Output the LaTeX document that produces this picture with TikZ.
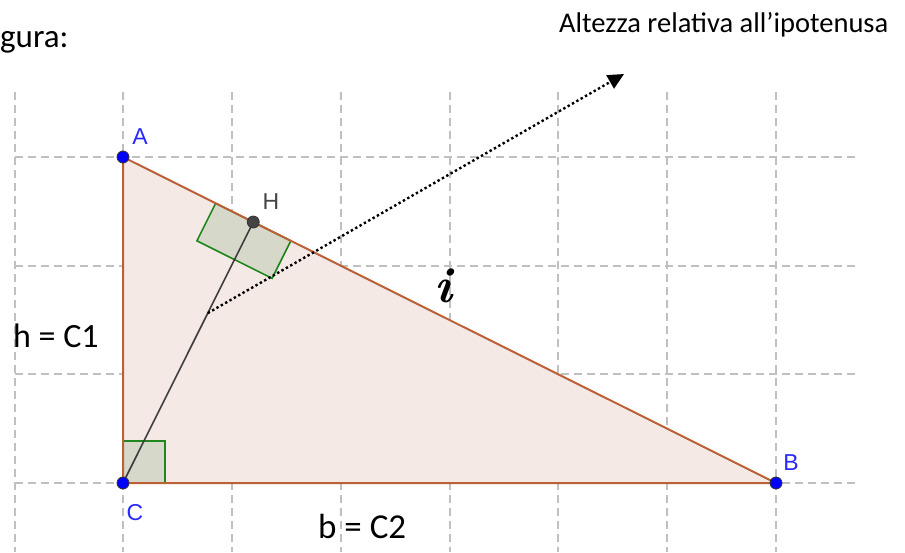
\documentclass[tikz,border=0pt]{standalone}
\usepackage{fontspec}
\setmainfont{Carlito}
\newfontfamily\labfont{Liberation Sans}
\newfontfamily\lmfont{Latin Modern Roman}
\usetikzlibrary{calc,arrows.meta}
\definecolor{gridc}{RGB}{192,192,192}
\definecolor{trifill}{RGB}{245,233,229}
\definecolor{edgec}{RGB}{188,96,56}
\definecolor{rafill}{RGB}{214,216,202}
\definecolor{rac}{RGB}{30,135,30}
\definecolor{ptblue}{RGB}{0,0,255}
\definecolor{labblue}{RGB}{40,40,255}
\definecolor{hgray}{RGB}{68,68,68}
\tikzset{
  gridline/.style={draw=gridc,line width=1.3pt,dash pattern=on 8pt off 5pt},
  edge/.style={draw=edgec,line width=2pt},
  ramark/.style={fill=rafill,draw=rac,line width=1.6pt,line join=miter},
  altline/.style={draw=hgray!90!black,line width=1.6pt},
  ptdot/.style={circle,inner sep=0pt,minimum size=12pt,draw=black!80,line width=0.8pt},
  ptlab/.style={font=\labfont\fontsize{23}{23}\selectfont,inner sep=0pt},
  txt/.style={inner sep=0pt,anchor=base west},
  dotarrow/.style={draw=black,line width=2.4pt,dash pattern=on 2.4pt off 2.6pt,-{Triangle[length=16pt,width=15pt]}}
}
\begin{document}
\begin{tikzpicture}[x=1pt,y=-1pt]
\useasboundingbox (0,0) rectangle (905,552);
% grid
\foreach \gx in {15,123,232,341,450,558,667,776}
  \draw[gridline] (\gx,92) -- (\gx,552);
\foreach \gy in {157,266,374,483}
  \draw[gridline] (15,\gy) -- (857,\gy);
% points
\coordinate (A) at (123,157);
\coordinate (B) at (776,483);
\coordinate (C) at (123,483);
\coordinate (H) at ($(A)!(C)!(B)$);
% triangle fill
\fill[trifill] (A) -- (B) -- (C) -- cycle;
% right angle marks
\coordinate (Ha) at ($(H)!42pt!(A)$);
\coordinate (Hb) at ($(H)!42pt!(B)$);
\coordinate (Hc) at ($(H)!42pt!(C)$);
\filldraw[ramark] (Ha) -- (Hb) -- ($(Hb)+(Hc)-(H)$) -- ($(Ha)+(Hc)-(H)$) -- cycle;
\filldraw[ramark] (C) rectangle ($(C)+(42,-42)$);
% triangle edges
\draw[edge,line join=round] (A) -- (B) -- (C) -- cycle;
% altitude
\draw[altline] (C) -- (H);
% dotted arrow
\coordinate (S) at ($(C)!0.651!(H)$);
\coordinate (T) at (624,74);
\draw[dotarrow] (S) -- (T);
% point dots
\node[ptdot,fill=ptblue] (pA) at (A) {};
\node[ptdot,fill=ptblue] (pB) at (B) {};
\node[ptdot,fill=ptblue] (pC) at (C) {};
\node[ptdot,fill=hgray] (pH) at (H) {};
% point labels
\node[ptlab,text=labblue] (lA) at (140,137) {A};
\node[ptlab,text=labblue] (lB) at (791,463) {B};
\node[ptlab,text=labblue] (lC) at (135,513) {C};
\node[ptlab,text=hgray] (lH) at (271,202) {H};
% texts
\node[txt,font=\fontsize{33}{33}\selectfont] (fig) at (0,47) {gura:};
\node[txt,font=\fontsize{28.5}{28.5}\selectfont] (title) at (559,32) {Altezza relativa all’ipotenusa};
\node[txt,font=\fontsize{34}{34}\selectfont] (hc) at (13,347) {h = C1};
\node[txt,font=\fontsize{35}{35}\selectfont] (bc) at (318,538) {b = C2};
\node[inner sep=0pt,font=\lmfont\bfseries\itshape\fontsize{50}{50}\selectfont] (hyp) at (443,286) {i};
\end{tikzpicture}
\end{document}
